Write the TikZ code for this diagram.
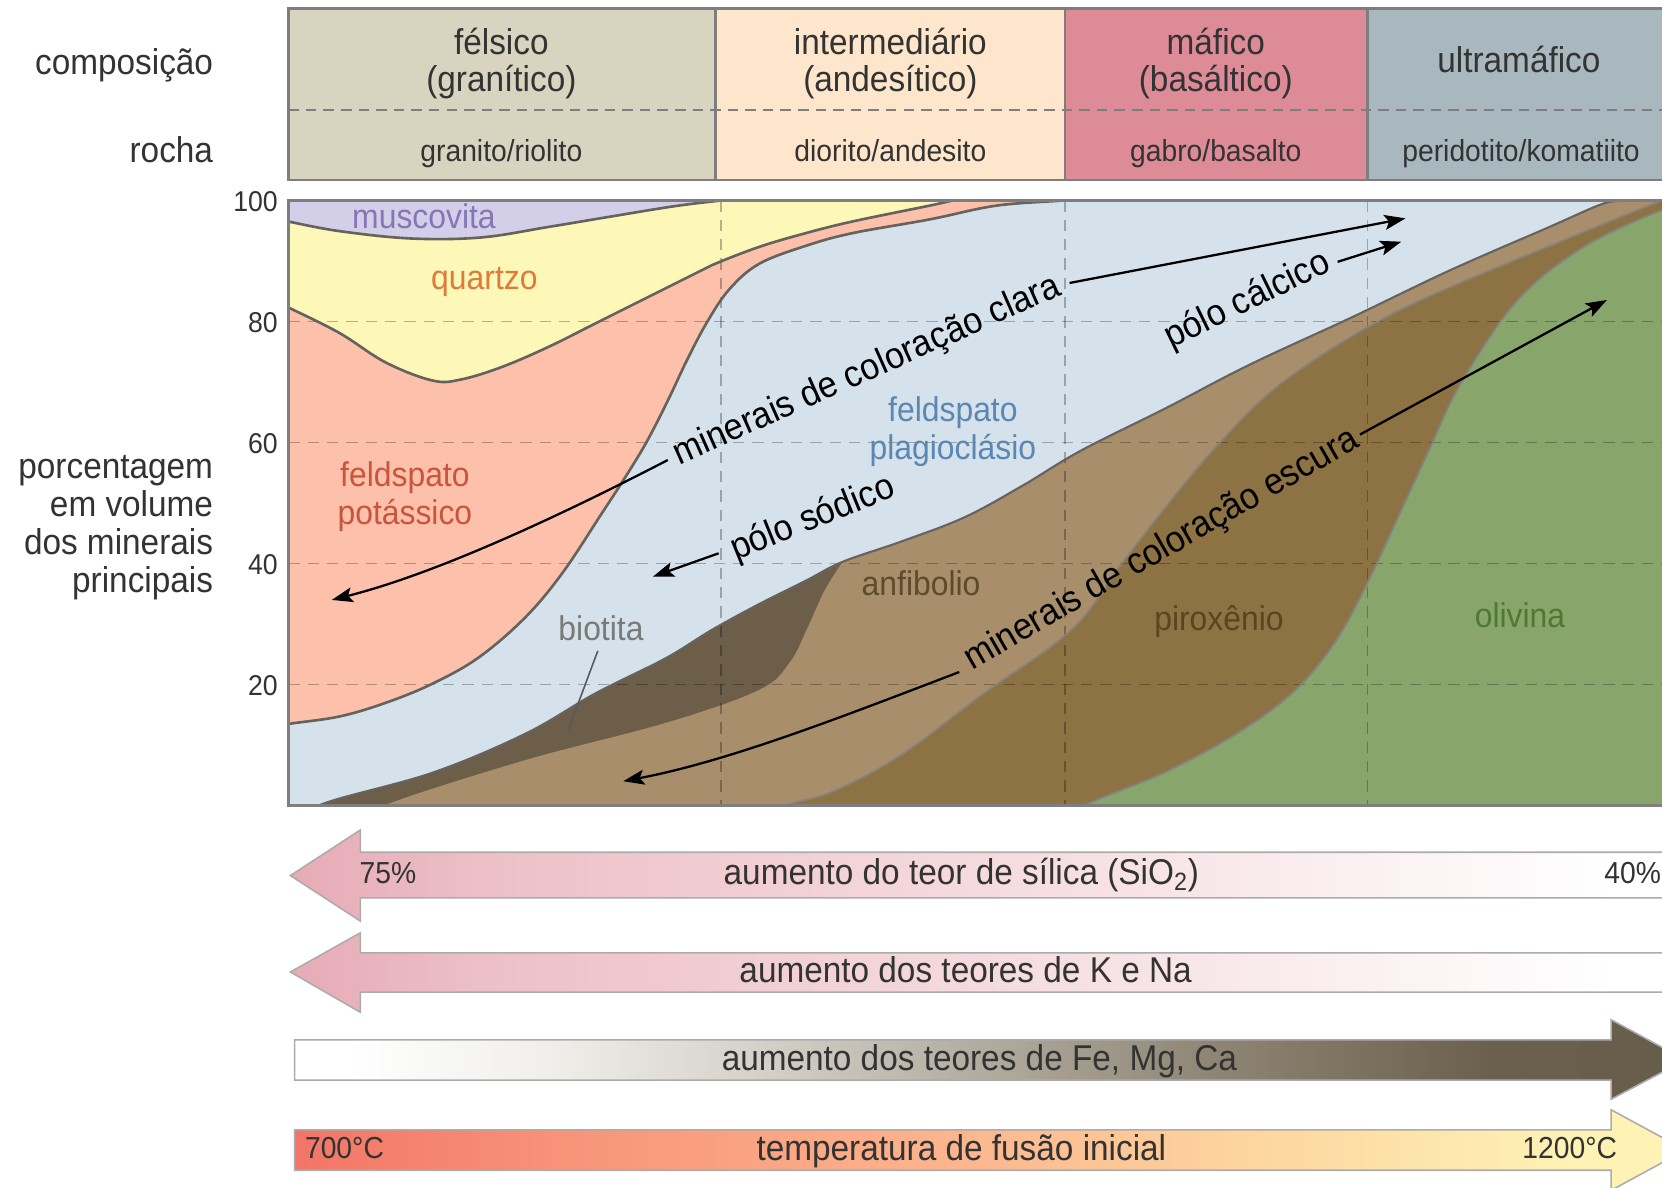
\documentclass[tikz,border=0pt]{standalone}
\usepackage{fontspec}
\setmainfont{Liberation Sans}[FakeStretch=0.93]
\usetikzlibrary{arrows.meta}
\definecolor{cFel}{HTML}{D9D4BF}
\definecolor{cInt}{HTML}{FDE6CC}
\definecolor{cMaf}{HTML}{DE8B98}
\definecolor{cUlt}{HTML}{A9B7BE}
\definecolor{cMus}{HTML}{D3CFE8}
\definecolor{cQtz}{HTML}{FDF8B8}
\definecolor{cKfs}{HTML}{FDC0AB}
\definecolor{cPlg}{HTML}{D5E2EC}
\definecolor{cBio}{HTML}{6C5E48}
\definecolor{cAmp}{HTML}{A88E6A}
\definecolor{cPyx}{HTML}{8D7243}
\definecolor{cOl}{HTML}{88A56C}
\definecolor{cLine}{HTML}{66635E}
\definecolor{cTxt}{HTML}{333333}
\definecolor{cBord}{HTML}{7E7E7E}
\definecolor{tMus}{HTML}{8577B5}
\definecolor{tQtz}{HTML}{E07A3A}
\definecolor{tKfs}{HTML}{C9553C}
\definecolor{tPlg}{HTML}{5B87B3}
\definecolor{tBio}{HTML}{7A7A78}
\definecolor{tAmp}{HTML}{5E4B2C}
\definecolor{tPyx}{HTML}{5A4522}
\definecolor{tOl}{HTML}{4E7A30}
\definecolor{aPink}{HTML}{E6ABB6}
\definecolor{aPinkB}{HTML}{EDC0C7}
\definecolor{aPinkC}{HTML}{F7E3E6}
\definecolor{feA}{HTML}{F0EFEB}
\definecolor{feB}{HTML}{D3D0C7}
\definecolor{feC}{HTML}{8E8574}
\definecolor{feD}{HTML}{6A604D}
\definecolor{feE}{HTML}{5B5140}
\definecolor{tpA}{HTML}{F27567}
\definecolor{tpB}{HTML}{F89479}
\definecolor{tpC}{HTML}{FCB68E}
\definecolor{tpD}{HTML}{FDD7A0}
\definecolor{tpE}{HTML}{FEF2B5}
\pgfdeclarehorizontalshading{shPink}{100bp}{color(0bp)=(aPink); color(25bp)=(aPink); color(32bp)=(aPinkB); color(55bp)=(aPinkC); color(72bp)=(white); color(100bp)=(white)}
\pgfdeclarehorizontalshading{shFe}{100bp}{color(0bp)=(white); color(27bp)=(white); color(34bp)=(feA); color(42bp)=(feB); color(58bp)=(feC); color(68bp)=(feD); color(100bp)=(feE)}
\pgfdeclarehorizontalshading{shTemp}{100bp}{color(0bp)=(tpA); color(25bp)=(tpA); color(35bp)=(tpB); color(49bp)=(tpC); color(60bp)=(tpD); color(71bp)=(tpE); color(100bp)=(tpE)}
\begin{document}
\begin{tikzpicture}[x=0.0212cm,y=-0.0212cm,
  every node/.style={inner sep=0pt,outer sep=0pt,text=cTxt},
  fbig/.style={font=\fontsize{20.4}{24}\selectfont,text height=14.6pt,text depth=4.1pt},
  fsm/.style={font=\fontsize{17.3}{20}\selectfont,text height=12.4pt,text depth=3.5pt},
  ftk/.style={font=\fontsize{16.3}{20}\selectfont,text height=11.7pt,text depth=0pt},
  flab/.style={font=\fontsize{19.5}{23}\selectfont,text height=14pt,text depth=3.9pt},
  frot/.style={font=\fontsize{21}{25}\selectfont,text height=15pt,text depth=4.2pt,text=black},
  bnd/.style={draw=cLine,line width=1.5pt},
  gridln/.style={draw=black,opacity=0.28,line width=0.9pt,dash pattern=on 6.5pt off 4.5pt},
  arr/.style={draw=black,line width=1.3pt,-{Stealth[length=12pt,width=8.5pt,inset=2.5pt]}},
  bigarrow/.style={draw=gray!65,line width=0.9pt},
  hdr/.style={draw=cBord,line width=1.4pt}
]
\useasboundingbox (0,0) rectangle (1568,1120);
\fill[white] (0,0) rectangle (1568,1120);

% ---------------- header ----------------
\fill[cFel] (272,8) rectangle (675,170);
\fill[cInt] (675,8) rectangle (1005,170);
\fill[cMaf] (1005,8) rectangle (1290,170);
\fill[cUlt] (1290,8) rectangle (1590,170);
\draw[draw=cBord,line width=0.9pt,dash pattern=on 6pt off 4pt] (272,104) -- (1590,104);
\draw[hdr] (1590,8) -- (272,8) -- (272,170) -- (1590,170);
\draw[hdr] (675,8) -- (675,170);
\draw[hdr] (1005,8) -- (1005,170);
\draw[hdr] (1290,8) -- (1290,170);

\node[fbig,anchor=east] (lcomp) at (201,62) {composição};
\node[fbig,anchor=east] (lrocha) at (201,145) {rocha};

\node[fbig] (fel1) at (473,43) {félsico};
\node[fbig] (fel2) at (473,78) {(granítico)};
\node[fsm] (fel3) at (473,145) {granito/riolito};
\node[fbig] (int1) at (840,43) {intermediário};
\node[fbig] (int2) at (840,78) {(andesítico)};
\node[fsm] (int3) at (840,145) {diorito/andesito};
\node[fbig] (maf1) at (1147,43) {máfico};
\node[fbig] (maf2) at (1147,78) {(basáltico)};
\node[fsm] (maf3) at (1147,145) {gabro/basalto};
\node[fbig] (ult1) at (1433,60) {ultramáfico};
\node[fsm] (ult3) at (1435,145) {peridotito/komatiito};

% ---------------- chart ----------------
\begin{scope}
\clip (272,189) rectangle (1568,760);
\fill[cMus] (260,180) rectangle (1600,780);
% quartz (below muscovite line)
\fill[cQtz] plot[smooth,tension=0.6] coordinates {(262,207) (272,209) (320,218) (388,225) (454,224) (518,214) (584,203) (640,194) (690,188) (720,184)} -- (1600,180) -- (1600,800) -- (250,800) -- cycle;
% K-feldspar (below quartz line)
\fill[cKfs] plot[smooth,tension=0.6] coordinates {(262,285) (272,290) (320,314) (364,342) (408,359) (435,358) (474,346) (518,327) (562,305) (606,283) (650,261) (672,250) (716,233) (760,220) (804,209) (877,194) (900,189) (930,184)} -- (1600,180) -- (1600,800) -- (250,800) -- cycle;
% plagioclase
\fill[cPlg] plot[smooth,tension=0.6] coordinates {(262,686) (272,683) (320,676) (364,663) (408,645) (452,620) (496,582) (531,540) (566,487) (590,450) (610,417) (630,378) (648,340) (667,304) (688,273) (716,249) (760,232) (804,220) (877,207) (940,194) (1005,189) (1030,186)} -- (1600,180) -- (1600,800) -- (250,800) -- cycle;
% biotite
\fill[cBio] plot[smooth,tension=0.6] coordinates {(296,775) (303,759) (408,729) (496,692) (562,654) (628,621) (672,594) (716,570) (760,548) (795,530) (850,511) (910,488) (965,458) (1020,425) (1100,385) (1179,344) (1274,300) (1368,255) (1462,214) (1510,193) (1530,189) (1545,185)} -- (1600,180) -- (1600,800) -- (296,800) -- cycle;
% amphibole
\fill[cAmp] plot[smooth,tension=0.6] coordinates {(350,775) (365,759) (496,717) (628,682) (716,651) (745,625) (762,592) (778,557) (795,530)} -- plot[smooth,tension=0.6] coordinates {(795,530) (850,511) (910,488) (965,458) (1020,425) (1100,385) (1179,344) (1274,300) (1368,255) (1462,214) (1510,193) (1530,189) (1545,185)} -- (1600,180) -- (1600,800) -- (350,800) -- cycle;
% pyroxene
\fill[cPyx] plot[smooth,tension=0.6] coordinates {(730,775) (742,760) (785,747) (849,713) (927,655) (1011,594) (1058,532) (1100,478) (1145,424) (1195,373) (1250,333) (1310,298) (1368,271) (1462,232) (1568,189) (1590,180)} -- (1600,180) -- (1600,800) -- (730,800) -- cycle;
% olivine
\fill[cOl] plot[smooth,tension=0.6] coordinates {(1013,775) (1023,760) (1100,728) (1170,690) (1222,651) (1260,605) (1290,550) (1318,490) (1348,425) (1378,362) (1431,284) (1494,233) (1568,198) (1610,185)} -- (1620,185) -- (1620,800) -- (1013,800) -- cycle;

% grid
\foreach \yy in {303.2,417.4,531.6,645.8} \draw[gridln] (272,\yy) -- (1568,\yy);
\foreach \xx in {680,1005,1290} \draw[gridln] (\xx,189) -- (\xx,760);

% boundary lines
\draw[bnd] plot[smooth,tension=0.6] coordinates {(262,207) (272,209) (320,218) (388,225) (454,224) (518,214) (584,203) (640,194) (690,188) (720,184)};
\draw[bnd] plot[smooth,tension=0.6] coordinates {(262,285) (272,290) (320,314) (364,342) (408,359) (435,358) (474,346) (518,327) (562,305) (606,283) (650,261) (672,250) (716,233) (760,220) (804,209) (877,194) (900,189) (930,184)};
\draw[bnd] plot[smooth,tension=0.6] coordinates {(262,686) (272,683) (320,676) (364,663) (408,645) (452,620) (496,582) (531,540) (566,487) (590,450) (610,417) (630,378) (648,340) (667,304) (688,273) (716,249) (760,232) (804,220) (877,207) (940,194) (1005,189) (1030,186)};
\draw[draw=cLine,line width=1.2pt] plot[smooth,tension=0.6] coordinates {(296,775) (303,759) (408,729) (496,692) (562,654) (628,621) (672,594) (716,570) (760,548) (795,530) (850,511) (910,488) (965,458) (1020,425) (1100,385) (1179,344) (1274,300) (1368,255) (1462,214) (1510,193) (1530,189) (1545,185)};
\draw[draw=gray!80!cAmp,line width=1pt] plot[smooth,tension=0.6] coordinates {(730,775) (742,760) (785,747) (849,713) (927,655) (1011,594) (1058,532) (1100,478) (1145,424) (1195,373) (1250,333) (1310,298) (1368,271) (1462,232) (1568,189) (1590,180)};
\draw[draw=cLine!80,line width=1.1pt] plot[smooth,tension=0.6] coordinates {(1013,775) (1023,760) (1100,728) (1170,690) (1222,651) (1260,605) (1290,550) (1318,490) (1348,425) (1378,362) (1431,284) (1494,233) (1568,198) (1610,185)};
\end{scope}
\draw[draw=cBord,line width=1.4pt] (1600,189) -- (272,189) -- (272,760) -- (1600,760);

% tick labels
\node[ftk,anchor=east] (t100) at (262,190) {100};
\node[ftk,anchor=east] (t80) at (262,304) {80};
\node[ftk,anchor=east] (t60) at (262,418) {60};
\node[ftk,anchor=east] (t40) at (262,532) {40};
\node[ftk,anchor=east] (t20) at (262,646) {20};

\node[font=\fontsize{20.4}{21.6}\selectfont,align=right,anchor=east] (ylab) at (201,498) {porcentagem\\em volume\\dos minerais\\principais};

% mineral labels
\node[flab,text=tMus] (mus) at (400,207) {muscovita};
\node[flab,text=tQtz] (qtz) at (457,265) {quartzo};
\node[flab,text=tKfs] (kfs1) at (382,451) {feldspato};
\node[flab,text=tKfs] (kfs2) at (382,486) {potássico};
\node[flab,text=tPlg] (plg1) at (899,389) {feldspato};
\node[flab,text=tPlg] (plg2) at (899,425) {plagioclásio};
\node[flab,text=tBio] (bio) at (567,596) {biotita};
\node[flab,text=tAmp] (amp) at (869,553) {anfibolio};
\node[flab,text=tPyx] (pyx) at (1150,586) {piroxênio};
\node[flab,text=tOl] (ol) at (1434,584) {olivina};

\coordinate (bioS) at (564,614);
\coordinate (bioE) at (536,689);
\draw[draw=gray!70!black,line width=0.9pt] (bioS) -- (bioE);

% rotated labels
\node[frot,rotate=24] (clara) at (818,350) {minerais de coloração clara};
\node[frot,rotate=26] (calc) at (1177,284) {pólo cálcico};
\node[frot,rotate=22] (sod) at (767,490) {pólo sódico};
\node[frot,rotate=30] (esc) at (1096,519) {minerais de coloração escura};

% arrows
\coordinate (claraL) at (630,434);
\coordinate (claraLE) at (313,566);
\coordinate (claraR) at (1009,267);
\coordinate (claraRE) at (1326,206);
\coordinate (calcS) at (1262,247);
\coordinate (calcE) at (1322,228);
\coordinate (sodS) at (678,522);
\coordinate (sodE) at (616,544);
\coordinate (escL) at (905,634);
\coordinate (escLE) at (588,737);
\coordinate (escR) at (1283,410);
\coordinate (escRE) at (1516,283);
\draw[arr] (claraL) .. controls (520,491) and (408,542) .. (claraLE);
\draw[arr] (claraR) -- (claraRE);
\draw[arr] (calcS) -- (calcE);
\draw[arr] (sodS) -- (sodE);
\draw[arr] (escL) .. controls (795,676) and (688,718) .. (escLE);
\draw[arr] (escR) -- (escRE);

% ---------------- bottom arrows ----------------
\shade[shading=shPink,bigarrow] (274,826) -- (340,783) -- (340,804) -- (1600,804) -- (1600,847) -- (340,847) -- (340,869) -- cycle;
\shade[shading=shPink,bigarrow] (274,917) -- (340,880) -- (340,899) -- (1600,899) -- (1600,936) -- (340,936) -- (340,955) -- cycle;
\shade[shading=shFe,bigarrow] (278,981) -- (1520,981) -- (1520,962) -- (1590,1000) -- (1520,1037) -- (1520,1019) -- (278,1019) -- cycle;
\shade[shading=shTemp,bigarrow] (278,1066) -- (1520,1066) -- (1520,1047) -- (1590,1085) -- (1520,1123) -- (1520,1104) -- (278,1104) -- cycle;

\node[fsm] (p75) at (366,826) {75\%};
\node[fbig] (sio) at (907,826) {aumento do teor de sílica (SiO\textsubscript{2})};
\node[fsm,anchor=east] (p40) at (1567,826) {40\%};
\node[fbig] (kna) at (911,918) {aumento dos teores de K e Na};
\node[fbig] (fe) at (924,1001) {aumento dos teores de Fe, Mg, Ca};
\node[fsm] (t700) at (325,1086) {700°C};
\node[fbig] (temp) at (907,1086) {temperatura de fusão inicial};
\node[fsm] (t1200) at (1481,1086) {1200°C};
\end{tikzpicture}
\end{document}
